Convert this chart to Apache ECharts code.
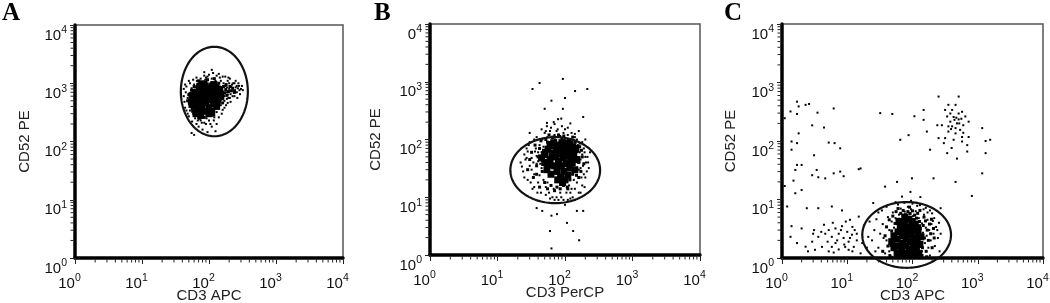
<!DOCTYPE html>
<html><head><meta charset="utf-8">
<script src="https://cdn.jsdelivr.net/npm/echarts@6/dist/echarts.min.js"></script>
<style>html,body{margin:0;padding:0;background:#fff}#c{width:1050px;height:303px}</style>
</head><body><div id="c"></div>
<script>
// ---------- texts ----------
const panelLetters = ['A', 'B', 'C'];
const xTitles = ['CD3 APC', 'CD3 PerCP', 'CD3 APC'];
const yTitles = ['CD52 PE', 'CD52 PE', 'CD52 PE'];
const tickBase = ['10', '10', '10', '10', '10'];
const tickSup = ['0', '1', '2', '3', '4'];
const bYTickBase = ['10', '10', '10', '10', '0']; // top label of B is cropped in the original
const minorTickMultipliers = [2, 3, 4, 5, 6, 7, 8, 9];
const decades = [1, 10, 100, 1000];

// ---------- gates (ellipse extents, data units) ----------
const aGate = { x: [38, 380], y: [123, 4230] };
const bGate = { x: [15.5, 331], y: [7.9, 110] };
const cGate = { x: [17, 389], y: [0.68, 9.06] };

// ---------- events: panel A ----------
const aCore = [[60,400],[60,560],[62,700],[66,480],[70,340],[70,620],[72,820],[78,420],[80,540],[82,700],[85,330],[88,900],[90,460],[92,620],[96,760],[100,380],[104,540],[108,680],[112,850],[118,450],[125,600],[128,760],[135,520],[140,680],[55,480],[75,280],[110,310],[66,380],[95,520],[84,620],[56,620],[64,300],[150,600],[145,780],[118,950],[78,980],[100,300],[130,400]];
const aMid = [[48,500],[50,640],[52,400],[55,760],[57,330],[60,880],[64,280],[68,960],[72,250],[78,1000],[85,260],[90,1050],[98,300],[105,950],[112,360],[120,980],[128,420],[135,880],[142,460],[150,780],[158,540],[165,880],[170,680],[178,780],[185,620],[195,720],[205,880],[215,740],[150,650],[160,460],[142,580],[130,900],[100,880],[75,900],[58,600],[62,520],[74,720],[90,800],[115,740],[122,520],[132,640],[110,450],[95,350],[82,370],[68,420],[102,640],[88,560],[140,1000],[180,950],[225,820],[240,700],[120,1200],[95,1150],[70,1100]];
const aCells = [[45,700],[48,560],[50,450],[44,380],[55,820],[58,300],[60,950],[62,250],[66,1100],[68,230],[70,870],[75,1200],[78,210],[80,1050],[88,1150],[92,250],[95,1300],[100,230],[105,1000],[110,1200],[115,280],[120,850],[125,1100],[130,320],[135,950],[140,700],[145,1250],[150,420],[155,800],[160,600],[165,1000],[170,500],[175,900],[180,700],[190,1100],[195,560],[200,800],[210,650],[220,950],[230,750],[240,600],[250,850],[260,700],[280,900],[290,650],[300,800],[160,350],[140,380],[180,420],[120,260],[90,200],[70,180],[110,180],[130,200],[42,600],[46,880],[52,1000],[205,1200],[175,1300],[58,650],[53,520],[150,1100],[185,850],[210,480],[230,1000],[265,560],[250,1100],[130,1350],[100,1400],[85,1350],[110,1700],[85,1550],[95,145],[125,150],[80,160],[55,140],[60,130],[320,760],[310,900],[150,520],[165,720],[145,880],[125,980],[190,640],[170,600],[150,640],[50,620],[52,340],[62,850],[48,300],[72,1000],[58,1150],[215,880],[235,680],[270,820],[285,760],[200,1000],[185,540],[43,480],[46,340],[50,270],[56,220],[65,200],[75,230],[85,210],[105,200],[118,230],[140,260],[155,300],[170,380],[190,460],[205,560],[225,600],[245,760],[260,900],[275,1000],[240,1000],[195,1250],[160,1300],[140,1450],[115,1500],[90,1250],[65,1250],[50,1100],[44,950],[42,800]];

// ---------- events: panel B ----------
const bCore = [[50,40],[50,55],[54,30],[56,68],[60,45],[62,25],[64,58],[66,78],[70,35],[72,50],[74,65],[76,28],[80,42],[82,80],[84,56],[86,22],[88,35],[90,70],[94,48],[96,28],[98,60],[102,82],[104,38],[108,52],[110,24],[112,68],[118,32],[120,46],[124,60],[128,40],[135,55],[140,30],[92,18],[100,20],[78,20],[145,70],[60,82],[115,85],[56,36],[68,88],[90,88],[130,75],[150,45],[45,48]];
const bMid = [[28,30],[30,45],[32,60],[34,22],[36,80],[38,35],[40,50],[42,15],[44,95],[46,28],[48,65],[50,18],[52,100],[55,14],[58,120],[62,16],[66,110],[70,13],[72,95],[76,15],[80,120],[85,14],[90,105],[95,16],[100,95],[108,15],[112,100],[118,20],[125,85],[130,25],[135,75],[142,45],[148,24],[152,62],[160,40],[165,75],[172,28],[180,50],[190,38],[45,45],[42,70],[38,25],[120,90],[142,90],[160,22],[175,65],[110,14],[70,110],[55,90],[130,110],[96,115]];
const bCells = [[22,40],[24,28],[25,55],[27,70],[28,20],[30,35],[30,90],[32,48],[33,14],[35,25],[36,62],[38,110],[40,18],[40,42],[42,80],[44,12],[45,32],[46,100],[48,20],[50,130],[52,15],[55,110],[58,12],[60,140],[65,105],[68,14],[70,120],[75,10],[78,150],[85,115],[88,10],[95,130],[100,105],[105,12],[110,120],[115,16],[120,100],[125,14],[130,90],[135,20],[140,110],[145,42],[150,18],[155,80],[160,30],[165,60],[170,45],[175,22],[180,90],[185,35],[190,70],[200,50],[210,28],[220,40],[235,60],[195,15],[170,12],[150,100],[62,160],[90,170],[110,160],[45,60],[38,52],[35,15],[130,10],[80,9],[60,9.5],[200,100],[33,750],[42,950],[93,1120],[141,690],[214,750],[63,470],[100,525],[50,340],[93,340],[186,245],[79,225],[54,194],[46,5.8],[63,4.8],[107,3.6],[60,2.6],[132,2.6],[162,1.8],[63,1.3],[76,5.1],[150,5.8],[186,5.8],[38,6.5],[100,7.4],[120,190],[70,185],[45,150],[160,140],[30,130],[26,45],[28,62],[32,30],[38,38],[42,24],[48,75],[40,60],[165,85],[180,55],[190,25],[205,40],[155,40],[170,32],[150,60],[55,18],[65,10],[120,12],[140,14],[110,9],[23,34],[25,22],[27,48],[29,80],[31,18],[34,40],[37,70],[39,12],[43,38],[47,55],[35,100],[52,140],[75,140],[100,150],[125,130],[140,125],[195,60],[215,50],[225,32],[200,22],[180,16],[160,12],[52,11],[70,9],[95,9],[120,9.5],[85,12],[140,9],[54,170],[68,200],[88,230]];

// ---------- events: panel C ----------
const cCore = [[58,1.2],[58,1.6],[58,2.1],[60,2.8],[65,3.5],[68,1.1],[68,1.4],[70,1.8],[70,2.4],[72,3.1],[75,4.0],[78,1.2],[80,1.6],[80,2.1],[82,2.7],[84,3.4],[88,1.1],[90,1.4],[92,1.9],[94,2.5],[96,3.2],[98,4.2],[100,1.2],[104,1.7],[106,2.2],[110,2.9],[115,1.4],[118,2.0],[122,2.6],[125,1.2],[52,1.5],[52,2.4],[130,1.7],[110,3.8],[88,4.6],[135,2.3],[62,4.2],[120,3.3],[48,1.9],[76,5.0]];
const cMid = [[35,1.3],[38,2.4],[40,3.4],[42,1.6],[44,4.5],[46,2.0],[48,2.9],[50,5.2],[54,3.9],[56,6.2],[62,4.6],[66,5.8],[72,6.5],[78,5.5],[85,6.2],[92,5.8],[100,6.4],[108,5.4],[115,4.8],[120,5.8],[128,4.2],[132,3.2],[138,2.4],[142,1.5],[146,3.6],[152,2.2],[158,4.3],[162,1.3],[168,3.0],[175,2.0],[182,3.8],[190,2.6],[200,1.5],[210,3.2],[45,1.1],[140,1.1],[165,1.05],[55,1.05],[150,5.0],[130,6.5],[90,7.4],[60,7.0],[215,2.2],[195,4.6],[120,1.05],[100,1.05],[75,1.05]];
const cCells = [[30,1.5],[32,2.6],[35,3.8],[38,1.2],[40,2.0],[42,5.0],[44,3.0],[46,1.6],[48,4.2],[50,6.0],[52,3.3],[55,4.8],[56,1.1],[62,5.5],[64,4.3],[66,7.0],[72,5.2],[76,6.2],[80,5.0],[85,7.5],[90,5.6],[95,6.8],[102,5.2],[108,4.5],[112,6.3],[120,3.6],[125,4.8],[130,3.0],[135,2.2],[140,1.3],[140,3.9],[145,2.7],[150,5.5],[155,1.8],[160,3.3],[165,2.4],[170,4.5],[175,1.5],[180,3.0],[190,2.0],[195,3.8],[200,5.8],[210,2.6],[220,1.6],[230,3.4],[245,2.2],[255,4.0],[260,1.3],[36,2.2],[44,1.3],[26,3.0],[28,4.6],[34,6.5],[148,6.8],[118,7.8],[60,8.2],[100,8.5],[185,6.5],[160,7.2],[135,1.1],[115,1.05],[185,1.1],[48,1.05],[205,4.3],
[1.7,470],[2.3,415],[2.6,430],[1.8,390],[1.35,320],[3.5,305],[6.2,360],[2.9,185],[4.4,170],[1.7,290],[1.1,245],[1.8,135],[1.4,98],[1.7,92],[5.2,94],[6.4,92],[7.8,75],[3.1,57],[1.4,71],[1.7,39],[1.6,32],[2.0,39],[2.9,26],[3.4,32],[3.6,24],[4.6,23],[6.2,28],[7.8,30],[15,33],[8.8,25],[1.1,17],[1.5,21],[2.0,14.5],[1.6,12.8],[2.4,7.1],[3.6,7.1],[5.8,7.6],[1.2,7.6],[8.3,6.5],[15,5.1],[11,4.5],
[1.4,3.5],[2.0,3.2],[1.35,2.3],[1.7,1.8],[2.3,1.56],[2.9,1.9],[3.6,2.3],[3.1,3.0],[4.4,3.7],[5.2,3.0],[4.6,2.6],[5.8,2.3],[6.6,3.2],[7.4,2.6],[8.3,3.5],[8.8,2.2],[10,2.8],[10.5,1.9],[11.8,2.5],[13,3.0],[14,2.0],[6.6,1.8],[5.8,1.55],[7.4,1.4],[5.2,1.3],[6.2,1.24],[4.1,1.55],[10.5,1.38],[16,1.2],[3.2,1.38],[9.3,1.55],[12.6,1.55],[17,1.8],[21,2.3],
[32,300],[49,290],[65,105],[87,126],[107,265],[148,340],[148,230],[166,145],[186,71],[210,23],[98,23],[58,20],[38,16.6],[93,13.5],[69,11.2],[132,11],[270,7.1],[457,20],[813,11.5],[1170,28],[25,8.7],[16,34],
[251,575],[510,575],[355,415],[457,415],[316,340],[405,340],[575,316],[340,263],[427,257],[510,234],[645,263],[380,214],[480,200],[600,186],[725,214],[282,186],[405,178],[537,155],[355,145],[457,135],[600,138],[725,117],[316,112],[427,105],[575,98],[690,85],[398,76],[302,92],[690,66],[480,50],[1170,166],[1320,100],[1550,105],[1320,62],[251,112],[240,186],[340,62],[510,295],[380,295],[457,166],[575,117],[355,178],[440,230],[520,200],[470,250],[390,160],[560,240],
[7,2.0],[8,3.0],[9,1.7],[11,2.2],[12,3.4],[4,2.8],[5,1.9],[3,2.6],[2.5,1.3],[6,4.0],[9.5,4.2],[12,1.3],[14,2.6],[18,3.6],[20,1.5],[24,2.0],[22,4.2],[27,1.3],[30,6.0],[40,7.5],[55,9.0],[75,8.8],[95,9.5],[130,8.0],[170,6.0],[215,4.8],[240,3.0],[270,2.6]];

// ---------- layout ----------
const grids = [
  { left: 75, top: 25, width: 268, height: 233 },
  { left: 430, top: 24, width: 270, height: 231 },
  { left: 782, top: 24, width: 261, height: 234 }
];
const letterPos = [[2, 1], [374, 1], [724, 1]];
const yNameGaps = [43, 47, 44];
const gates = [aGate, bGate, cGate];
const cores = [aCore, bCore, cCore];
const mids = [aMid, bMid, cMid];
const cells = [aCells, bCells, cCells];

const minorTicks = [];
decades.forEach(d => minorTickMultipliers.forEach(m => minorTicks.push(d * m)));

function expIndex(v) { return Math.round(Math.log(v) / Math.LN10); }

const rich = {
  b: { fontSize: 15, lineHeight: 18, color: '#111', fontFamily: 'Liberation Sans, Arial', verticalAlign: 'bottom' },
  s: { fontSize: 10.5, lineHeight: 10, color: '#111', fontFamily: 'Liberation Sans, Arial', verticalAlign: 'top' },
  p: { width: 11, fontSize: 10 }
};

function gateRender(gate) {
  return function (params, api) {
    const p1 = api.coord([gate.x[0], gate.y[0]]);
    const p2 = api.coord([gate.x[1], gate.y[1]]);
    const cx = (p1[0] + p2[0]) / 2, cy = (p1[1] + p2[1]) / 2;
    const rx = Math.abs(p2[0] - p1[0]) / 2, ry = Math.abs(p2[1] - p1[1]) / 2;
    const pts = [];
    for (let i = 0; i < 160; i++) {
      const t = i / 160 * Math.PI * 2;
      pts.push([cx + rx * Math.cos(t), cy + ry * Math.sin(t)]);
    }
    return { type: 'polygon', shape: { points: pts }, style: { fill: 'none', stroke: '#111', lineWidth: 2.2 } };
  };
}

function minorRender(params, api) {
  const p = api.coord([api.value(0), api.value(1)]);
  if (api.value(2) === 0) {
    return { type: 'line', shape: { x1: p[0], y1: p[1] + 1.5, x2: p[0], y2: p[1] + 4.5 }, style: { stroke: '#222', lineWidth: 1 } };
  }
  return { type: 'line', shape: { x1: p[0] - 1.5, y1: p[1], x2: p[0] - 4.5, y2: p[1] }, style: { stroke: '#222', lineWidth: 1 } };
}

const option = {
  animation: false,
  backgroundColor: '#fff',
  grid: grids.map(g => Object.assign({ show: true, borderColor: '#555', borderWidth: 1.5, backgroundColor: 'transparent', containLabel: false, outerBoundsMode: 'none' }, g)),
  xAxis: [0, 1, 2].map(i => ({
    gridIndex: i, type: 'log', logBase: 10, min: 1, max: 10000,
    name: xTitles[i], nameLocation: 'middle', nameGap: 30, nameMoveOverlap: false,
    nameTextStyle: { fontSize: 15, color: '#222', fontFamily: 'Liberation Sans, Arial', verticalAlign: 'top', lineHeight: 15 },
    axisLine: { show: true, onZero: false, lineStyle: { color: '#000', width: 3.5 } },
    axisTick: { show: true, length: 6, lineStyle: { color: '#222', width: 1 } },
    splitLine: { show: false }, minorTick: { show: false },
    axisLabel: {
      margin: 15, align: 'center', showMinLabel: true, showMaxLabel: true,
      formatter: v => { const k = expIndex(v); return '{b|' + tickBase[k] + '}{s|' + tickSup[k] + '}{p| }'; },
      rich: rich
    }
  })),
  yAxis: [0, 1, 2].map(i => ({
    gridIndex: i, type: 'log', logBase: 10, min: 1, max: 10000,
    name: yTitles[i], nameLocation: 'middle', nameGap: yNameGaps[i], nameRotate: 90,
    nameTextStyle: { fontSize: 15, color: '#222', fontFamily: 'Liberation Sans, Arial' },
    axisLine: { show: true, onZero: false, lineStyle: { color: '#000', width: 3.5 } },
    axisTick: { show: true, length: 5, lineStyle: { color: '#222', width: 1 } },
    splitLine: { show: false }, minorTick: { show: false },
    axisLabel: {
      margin: 8, verticalAlign: 'top', showMinLabel: true, showMaxLabel: true,
      formatter: v => { const k = expIndex(v); const base = i === 1 ? bYTickBase : tickBase; return '{b|' + base[k] + '}{s|' + tickSup[k] + '}'; },
      rich: rich
    }
  })),
  series: [],
  graphic: panelLetters.map((t, i) => ({
    type: 'text', left: letterPos[i][0], top: letterPos[i][1],
    style: { text: t, font: 'bold 25px "Liberation Serif", "Times New Roman", serif', fill: '#000' }
  }))
};

for (let i = 0; i < 3; i++) {
  option.series.push({
    type: 'scatter', xAxisIndex: i, yAxisIndex: i, data: cells[i], symbol: 'rect', symbolSize: 2,
    itemStyle: { color: '#000', opacity: 1 }, silent: true
  });
  option.series.push({
    type: 'scatter', xAxisIndex: i, yAxisIndex: i, data: mids[i], symbol: 'rect', symbolSize: 3,
    itemStyle: { color: '#000', opacity: 1 }, silent: true
  });
  option.series.push({
    type: 'scatter', xAxisIndex: i, yAxisIndex: i, data: cores[i], symbol: 'rect', symbolSize: 7,
    itemStyle: { color: '#000', opacity: 1 }, silent: true
  });
  option.series.push({
    type: 'custom', xAxisIndex: i, yAxisIndex: i, data: [[10, 10]], renderItem: gateRender(gates[i]), silent: true, clip: false, z: 5
  });
  const md = [];
  minorTicks.forEach(v => { md.push([v, 1, 0]); md.push([1, v, 1]); });
  option.series.push({
    type: 'custom', xAxisIndex: i, yAxisIndex: i, data: md, renderItem: minorRender, silent: true, clip: false, z: 5
  });
}

const chart = echarts.init(document.getElementById('c'), null, { renderer: 'canvas' });
chart.setOption(option);
</script>
</body></html>
